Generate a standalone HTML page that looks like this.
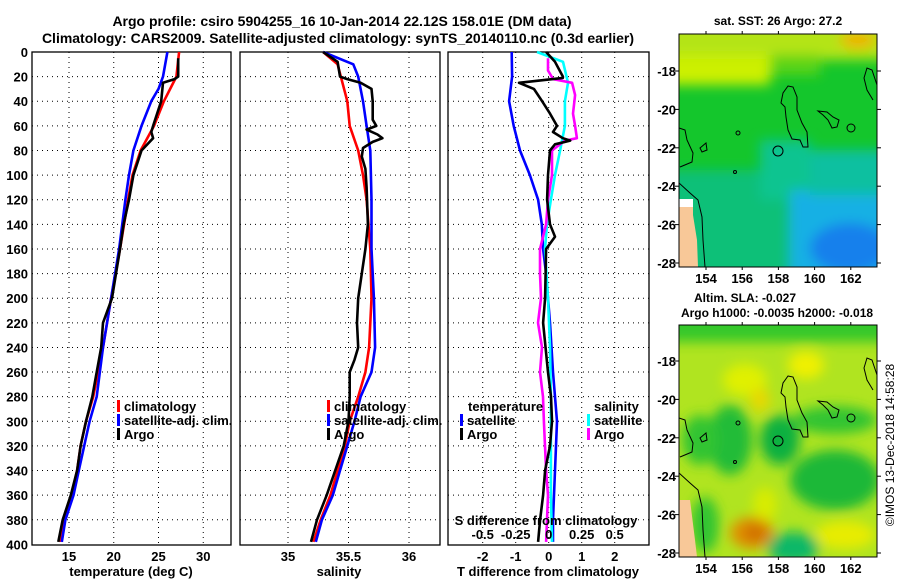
<!DOCTYPE html>
<html><head><meta charset="utf-8"><style>
html,body{margin:0;padding:0;background:#fff;}
svg{display:block;font-family:"Liberation Sans",Arial,sans-serif;font-weight:bold;}
</style></head><body>
<svg id="chart" width="900" height="580" viewBox="0 0 900 580" xmlns="http://www.w3.org/2000/svg">
<defs>
<filter id="blur" x="-50%" y="-50%" width="200%" height="200%"><feGaussianBlur stdDeviation="6"/></filter>
<clipPath id="clipM1"><rect x="679" y="34" width="198" height="233"/></clipPath>
<clipPath id="clipM2"><rect x="679" y="325" width="198" height="232"/></clipPath>
</defs>
<text x="342" y="26" font-size="14" text-anchor="middle">Argo profile: csiro 5904255_16 10-Jan-2014 22.12S 158.01E (DM data)</text>
<text x="338" y="43" font-size="14" text-anchor="middle">Climatology: CARS2009. Satellite-adjusted climatology: synTS_20140110.nc (0.3d earlier)</text>

<!-- map 1 -->
<g>
<text x="778" y="25" font-size="12" text-anchor="middle">sat. SST: 26 Argo: 27.2</text>
<g clip-path="url(#clipM1)">
<rect x="679" y="34" width="198" height="233" fill="#14c62c"/>
<g filter="url(#blur)">
<rect x="660" y="10" width="240" height="50" fill="#b4e414"/>
<rect x="660" y="55" width="110" height="30" fill="#ccf000"/>
<rect x="770" y="55" width="50" height="20" fill="#5cd414"/>
<ellipse cx="858" cy="40" rx="18" ry="8" fill="#f0b000"/>
<rect x="660" y="170" width="150" height="110" fill="#0cc078"/>
<rect x="760" y="140" width="50" height="60" fill="#10c490"/>
<rect x="790" y="190" width="110" height="90" fill="#18b0e4"/>
<ellipse cx="850" cy="248" rx="40" ry="25" fill="#1480ec"/>
<rect x="810" y="150" width="90" height="45" fill="#10c0a0"/>
</g>
<polygon points="679,205 693,205 693,215 697,240 698,267 679,267" fill="#f8c898"/>
<rect x="679" y="199" width="14" height="8" fill="#fff"/>
<g id="coast1" fill="none" stroke="#000" stroke-width="1">
<path d="M788,86 L793,87 L797,97 L797,110 L802,123 L807,132 L808,147 L803,147 L800,140 L792,139 L788,130 L786,117 L785,107 L781,103 L783,93 Z"/>
<path d="M818,111 L827,112 L833,117 L839,120 L837,127 L832,128 L828,120 L823,115 Z"/>
<circle cx="778" cy="151" r="5"/>
<path d="M679,128 L685,130 L687,140 L693,153 L692,162 L680,167"/>
<path d="M679,183 L690,193 L698,200 L702,217 L703,240 L705,267"/>
<path d="M877,85 L872,70 L867,68 L864,78 L867,90 L873,100"/>
<path d="M700,148 L706,143 L707,150 L702,152 Z"/>
<circle cx="738" cy="133" r="2"/><circle cx="735" cy="172" r="1.5"/><circle cx="851" cy="128" r="4"/>
</g>
</g>
<rect x="679" y="34" width="198" height="233" fill="none" stroke="#000"/>
</g>

<!-- map 2 -->
<g>
<text x="745" y="302" font-size="12" text-anchor="middle">Altim. SLA: -0.027</text>
<text x="777" y="317" font-size="12" text-anchor="middle">Argo h1000: -0.0035 h2000: -0.018</text>
<g clip-path="url(#clipM2)">
<rect x="679" y="325" width="198" height="232" fill="#b0e420"/>
<g filter="url(#blur)">
<rect x="660" y="310" width="240" height="32" fill="#34c82c"/>
<ellipse cx="745" cy="380" rx="22" ry="16" fill="#e0f000"/>
<ellipse cx="806" cy="365" rx="18" ry="14" fill="#f0f000"/>
<ellipse cx="730" cy="440" rx="22" ry="35" fill="#24bc38"/>
<ellipse cx="700" cy="440" rx="18" ry="25" fill="#30c430"/>
<ellipse cx="780" cy="440" rx="20" ry="25" fill="#10b040"/>
<ellipse cx="835" cy="420" rx="42" ry="14" fill="#30c430"/>
<ellipse cx="835" cy="480" rx="45" ry="30" fill="#1cb838"/>
<ellipse cx="793" cy="548" rx="26" ry="16" fill="#10b868"/>
<ellipse cx="705" cy="525" rx="14" ry="28" fill="#30c430"/>
<ellipse cx="845" cy="535" rx="30" ry="14" fill="#e8ec00"/>
<ellipse cx="765" cy="505" rx="12" ry="18" fill="#d8ec00"/>
<ellipse cx="760" cy="400" rx="10" ry="12" fill="#e8d800"/>
<ellipse cx="752" cy="533" rx="22" ry="16" fill="#e09000"/>
<ellipse cx="755" cy="533" rx="11" ry="9" fill="#d07000"/>
</g>
<polygon points="679,500 690,500 695,540 697,557 679,557" fill="#f8c898"/>
<use href="#coast1" transform="translate(0,290)"/>
</g>
<rect x="679" y="325" width="198" height="232" fill="none" stroke="#000"/>
</g>
<text transform="translate(894,445) rotate(-90)" font-size="12" font-weight="normal" text-anchor="middle">©IMOS 13-Dec-2018 14:58:28</text>

<g id="plots"></g>
</svg>
<script>
// ---- data ----
const depthTicks = [0,20,40,60,80,100,120,140,160,180,200,220,240,260,280,300,320,340,360,380,400];
const tTicks = [15,20,25,30];
const sTicks = [35,35.5,36];
const sTickLabels = ["35","35.5","36"];
const dTicks = [-2,-1,0,1,2];
const dsTicks = [-0.5,-0.25,0,0.25,0.5];
const dsTickLabels = ["-0.5","-0.25","0","0.25","0.5"];
const latTicks = [-18,-20,-22,-24,-26,-28];
const lonTicks = [154,156,158,160,162];

const tClimDepth = [0,20,40,60,80,100,120,160,200,240,280,300,320,340,360,380,398];
const tClimVal   = [27.3,27.0,25.6,24.5,23.0,22.1,21.6,20.7,19.7,18.8,17.7,16.9,16.3,15.9,15.3,14.5,14.0];
const tSatDepth  = [0,20,30,40,60,80,100,120,160,200,240,280,300,320,340,360,380,398];
const tSatVal    = [26.0,25.5,25.0,24.2,23.1,22.2,21.7,21.3,20.6,19.7,18.8,18.1,17.3,16.7,16.1,15.5,14.6,14.2];
const tArgoDepth = [5,20,22,25,40,60,65,70,80,100,120,140,160,200,220,240,260,280,300,320,340,360,380,398];
const tArgoVal   = [27.2,27.2,26.8,25.5,25.3,24.4,24.2,24.4,23.1,22.2,21.7,21.1,20.7,19.8,18.8,18.6,18.1,17.6,16.9,16.3,15.9,15.2,14.3,13.8];

const sClimDepth = [0,10,40,60,80,100,120,160,200,240,260,280,300,320,340,360,380,398];
const sClimVal   = [35.29,35.41,35.49,35.51,35.58,35.62,35.65,35.68,35.69,35.67,35.64,35.58,35.51,35.47,35.41,35.35,35.27,35.21];
const sSatDepth  = [0,10,20,40,60,80,120,160,200,240,260,280,300,320,340,360,380,398];
const sSatVal    = [35.29,35.54,35.58,35.62,35.65,35.68,35.69,35.69,35.71,35.72,35.69,35.60,35.55,35.49,35.43,35.37,35.28,35.23];
const sArgoDepth = [0,8,20,22,25,30,40,55,60,63,67,70,73,78,85,95,110,140,160,180,200,220,240,250,260,280,300,320,340,360,380,398];
const sArgoVal   = [35.29,35.41,35.43,35.49,35.60,35.69,35.70,35.70,35.73,35.65,35.74,35.78,35.70,35.62,35.61,35.64,35.65,35.66,35.64,35.61,35.58,35.57,35.58,35.55,35.51,35.51,35.50,35.46,35.39,35.32,35.24,35.19];

const dtSatDepth = [0,20,40,60,80,100,120,140,160,180,200,220,260,300,340,380,398];
const dtSatVal   = [-1.12,-1.11,-1.2,-1.06,-0.87,-0.57,-0.32,-0.21,-0.17,-0.08,-0.02,0.04,0.13,0.25,0.19,0.13,0.13];
const dtArgoDepth = [0,8,20,21,25,30,40,50,60,65,70,72,75,80,100,120,140,150,160,200,220,260,280,300,320,340,360,380,398];
const dtArgoVal   = [-0.08,0.19,0.43,0.43,-0.9,-0.45,-0.2,0.04,0.25,0.13,0.43,0.65,0.19,0.04,-0.02,-0.05,0.04,0.19,-0.08,-0.11,-0.17,-0.02,0.07,0.1,0.04,-0.11,-0.17,-0.26,-0.32];
const dsSatDepth = [0,8,25,40,60,80,100,120,140,160,200,240,280,320,360,398];
const dsSatVal   = [-0.089,0.108,0.146,0.123,0.123,0.086,0.048,0.017,-0.013,-0.028,-0.005,0.01,0.017,0.017,0.017,0.025];
const dsArgoDepth = [5,15,22,25,35,50,60,70,72,80,100,120,140,160,180,200,220,240,260,280,300,320,340,360,380,398];
const dsArgoVal   = [-0.005,-0.005,0.033,0.177,0.2,0.184,0.2,0.214,0.123,0.025,0.025,-0.005,-0.02,-0.066,-0.066,-0.058,-0.081,-0.051,-0.066,-0.043,-0.036,-0.028,-0.02,-0.005,-0.013,-0.02];

// ---- scales ----
const NS = "http://www.w3.org/2000/svg";
const TOP = 52, BOT = 545;
const yD = d => 52 + d * 1.231;
const xT = t => 69 + (t - 15) * 8.95;
const xS = s => 288 + (s - 35) * 121;
const xDT = v => 548.7 + v * 33;
const xDS = v => 548.7 + v * 132;
const latY1 = l => 71 + (-18 - l) * 19.2;
const latY2 = l => 361 + (-18 - l) * 19.2;
const lonX = l => 706 + (l - 154) * 18.1;

const root = document.getElementById('plots');
function mk(tag, attrs, parent) {
  const e = document.createElementNS(NS, tag);
  for (const k in attrs) e.setAttribute(k, attrs[k]);
  (parent || root).appendChild(e);
  return e;
}
function txt(x, y, s, anchor, size, parent) {
  const e = mk('text', {x: x, y: y, 'text-anchor': anchor, 'font-size': size}, parent);
  e.textContent = s;
  return e;
}

const panels = [
  {x0: 32, x1: 231, name: 'temperature-panel', grid: tTicks.map(xT)},
  {x0: 240, x1: 440, name: 'salinity-panel', grid: sTicks.map(xS)},
  {x0: 448, x1: 649, name: 'difference-panel', grid: dTicks.map(xDT)}
];
panels.forEach(p => {
  const g = mk('g', {});
  
  
  depthTicks.forEach(d => {
    if (d === 0 || d === 400) return;
    const l = mk('line', {x1: p.x0, x2: p.x1, y1: yD(d), y2: yD(d), stroke: '#000', 'stroke-width': 1, 'stroke-dasharray': '1 4'}, g);
    
    
  });
  p.grid.forEach(x => {
    const l = mk('line', {x1: x, x2: x, y1: TOP, y2: BOT, stroke: '#000', 'stroke-width': 1, 'stroke-dasharray': '1 4'}, g);
    
    
  });
  const r = mk('rect', {x: p.x0, y: TOP, width: p.x1 - p.x0, height: BOT - TOP, fill: 'none', stroke: '#000', 'stroke-width': 1.3}, g);
  
  
  p.g = g;
});

depthTicks.forEach(d => {
  const t = txt(28, yD(d) + 5, String(d), 'end', 13);
  
  
});
tTicks.forEach(v => {
  const t = txt(xT(v), 561, String(v), 'middle', 13);
  
  
});
sTicks.forEach((v, i) => {
  const t = txt(xS(v), 561, sTickLabels[i], 'middle', 13);
  
  
});
dTicks.forEach(v => {
  const t = txt(xDT(v), 561, String(v), 'middle', 13);
  
  
});
dsTicks.forEach((v, i) => {
  const t = txt(xDS(v), 539, dsTickLabels[i], 'middle', 13);
  
  
});
let a;
a = txt(131, 576, 'temperature (deg C)', 'middle', 13);


a = txt(339, 576, 'salinity', 'middle', 13);


a = txt(548, 576, 'T difference from climatology', 'middle', 13);


a = txt(546, 525, 'S difference from climatology', 'middle', 13);



function series(depths, vals, xf, color, name, parent) {
  const d = depths.map((dp, i) => (i ? 'L' : 'M') + xf(vals[i]).toFixed(1) + ',' + yD(dp).toFixed(1)).join(' ');
  const p = mk('path', {d: d, fill: 'none', stroke: color, 'stroke-width': 2.6, 'stroke-linejoin': 'round'}, parent);
  
  
}
series(tClimDepth, tClimVal, xT, '#ff0000', 'temperature-climatology-line', panels[0].g);
series(tSatDepth, tSatVal, xT, '#0000ff', 'temperature-satellite-line', panels[0].g);
series(tArgoDepth, tArgoVal, xT, '#000000', 'temperature-argo-line', panels[0].g);
series(sClimDepth, sClimVal, xS, '#ff0000', 'salinity-climatology-line', panels[1].g);
series(sSatDepth, sSatVal, xS, '#0000ff', 'salinity-satellite-line', panels[1].g);
series(sArgoDepth, sArgoVal, xS, '#000000', 'salinity-argo-line', panels[1].g);
series(dtSatDepth, dtSatVal, xDT, '#0000ff', 't-diff-satellite-line', panels[2].g);
series(dsSatDepth, dsSatVal, xDS, '#00ffff', 's-diff-satellite-line', panels[2].g);
series(dsArgoDepth, dsArgoVal, xDS, '#ff00ff', 's-diff-argo-line', panels[2].g);
series(dtArgoDepth, dtArgoVal, xDT, '#000000', 't-diff-argo-line', panels[2].g);

function legendEntry(x, y, color, label) {
  const g = mk('g', {});
  
  
  if (color) mk('rect', {x: x, y: y - 11, width: 3, height: 12, fill: color}, g);
  txt(x + (color ? 7 : 0), y, label, 'start', 13, g);
}
legendEntry(117, 411, '#ff0000', 'climatology');
legendEntry(117, 425, '#0000ff', 'satellite-adj. clim.');
legendEntry(117, 439, '#000000', 'Argo');
legendEntry(327, 411, '#ff0000', 'climatology');
legendEntry(327, 425, '#0000ff', 'satellite-adj. clim.');
legendEntry(327, 439, '#000000', 'Argo');
legendEntry(468, 411, null, 'temperature');
legendEntry(460, 425, '#0000ff', 'satellite');
legendEntry(460, 439, '#000000', 'Argo');
legendEntry(594, 411, null, 'salinity');
legendEntry(587, 425, '#00ffff', 'satellite');
legendEntry(587, 439, '#ff00ff', 'Argo');

// map ticks (lat labels sit left of the maps)
[[latY1, 34, 267, 'sst'], [latY2, 325, 557, 'sla']].forEach(m => {
  latTicks.forEach(l => {
    const y = m[0](l);
    mk('line', {x1: 679, x2: 675, y1: y, y2: y, stroke: '#000'});
    mk('line', {x1: 877, x2: 881, y1: y, y2: y, stroke: '#000'});
    const t = txt(676, y + 5, String(l), 'end', 13);
    
    
  });
  lonTicks.forEach(l => {
    const x = lonX(l);
    mk('line', {x1: x, x2: x, y1: m[1], y2: m[1] - 3, stroke: '#000'});
    mk('line', {x1: x, x2: x, y1: m[2], y2: m[2] + 3, stroke: '#000'});
    const t = txt(x, m[2] + 16, String(l), 'middle', 13);
    
    
  });
});
</script>
</body></html>
